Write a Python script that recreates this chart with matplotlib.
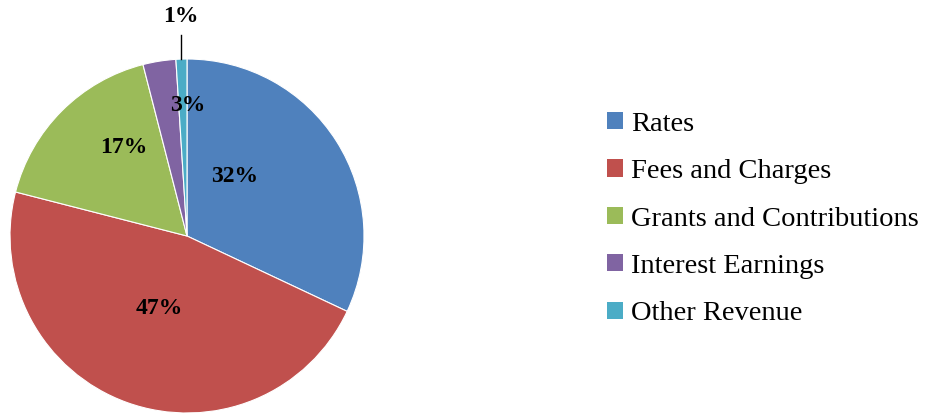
import numpy as np
import matplotlib
matplotlib.use("Agg")
import matplotlib.pyplot as plt
from matplotlib.patches import Patch

# Revenue breakdown (percent of total)
categories = ["Rates", "Fees and Charges", "Grants and Contributions",
              "Interest Earnings", "Other Revenue"]
shares = [32, 47, 17, 3, 1]
colors = ["#4F81BD", "#C0504D", "#9BBB59", "#8064A2", "#4BACC6"]

# label placement (fraction of radius), roughly where Excel put them
label_pos = [(0.27, 0.335), (-0.158, -0.407), (-0.357, 0.50), (0.006, 0.74)]

plt.rcParams["font.family"] = ["Liberation Serif", "DejaVu Serif"]

fig = plt.figure(figsize=(9.29, 4.16), dpi=100)
W, H = 929, 416
cx, cy, r = 187, 236, 177
ax = fig.add_axes([(cx - r) / W, (H - cy - r) / H, 2 * r / W, 2 * r / H])

wedges, _ = ax.pie(shares, colors=colors, startangle=90, counterclock=False,
                   radius=1.0, wedgeprops=dict(edgecolor="white", linewidth=0.8))
ax.set_xlim(-1, 1)
ax.set_ylim(-1, 1)
ax.set_aspect("equal")
ax.axis("off")

for (x, y), val in zip(label_pos, shares):
    ax.text(x, y, f"{val}%", ha="center", va="center",
            fontsize=17, fontweight="bold")

# smallest slice gets a label outside with a leader line
w = wedges[-1]
mid = np.deg2rad((w.theta1 + w.theta2) / 2)
lx = np.cos(mid)
ax.plot([lx, lx], [1.0, 1.135], color="black", lw=1, clip_on=False)
ax.text(lx * 1.1, 1.24, f"{shares[-1]}%", ha="center", va="center",
        fontsize=17, fontweight="bold", clip_on=False)

handles = [Patch(facecolor=c, edgecolor="none") for c in colors]
fig.legend(handles, categories, loc="center left",
           bbox_to_anchor=(607 / W, 1 - 219 / H), frameon=False,
           fontsize=20.5, handlelength=0.55, handleheight=0.55,
           handletextpad=0.3, labelspacing=0.79, borderaxespad=0,
           borderpad=0)

fig.savefig("out.png", dpi=100)
